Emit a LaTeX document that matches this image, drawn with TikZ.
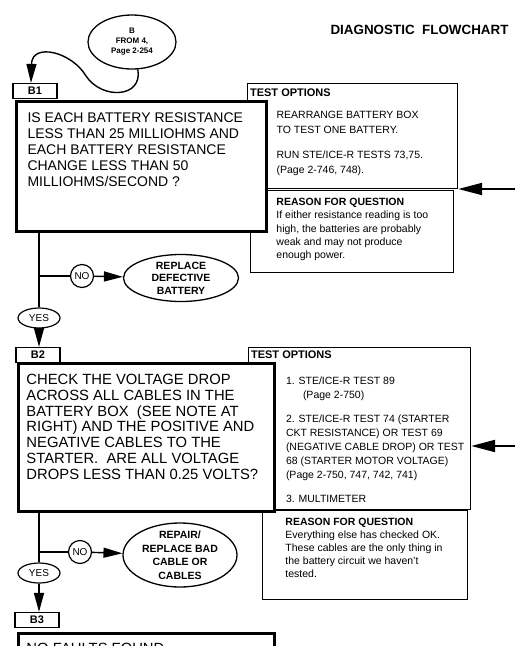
\documentclass[tikz,border=0pt]{standalone}
\usepackage{fontspec}
\setmainfont{Liberation Sans}
\usetikzlibrary{arrows.meta,shapes.geometric}

\begin{document}
\begin{tikzpicture}[x=1pt,y=-1pt,>={Triangle[length=19pt,width=10pt]},
   lab/.style={draw,line width=1.2pt,minimum width=44pt,minimum height=15pt,inner sep=0pt,font=\fontsize{11}{12}\selectfont\bfseries},
   quest/.style={draw,line width=3pt,fill=white,anchor=north west,inner ysep=0pt},
   opts/.style={draw,line width=1.2pt,anchor=north west,inner sep=0pt,font=\fontsize{10.5}{14}\selectfont},
   why/.style={draw,line width=0.9pt,anchor=north west,inner sep=0pt,font=\fontsize{10.5}{13.3}\selectfont},
   act/.style={ellipse,draw,line width=1.3pt,align=center,inner sep=0pt,font=\fontsize{10.5}{12.5}\selectfont\bfseries},
   ans/.style={draw,line width=1.2pt,inner sep=0pt,font=\fontsize{10}{11}\selectfont},
   link/.style={line width=1.4pt},
   feed/.style={line width=2pt,-{Triangle[length=24pt,width=12pt]}}]
  \useasboundingbox (0,0) rectangle (515,646);
  \clip (0,0) rectangle (515,646);
  % heading and entry point
  \node[anchor=east,font=\fontsize{13.4}{15}\selectfont\bfseries] (title) at (512,30) {DIAGNOSTIC\ \ FLOWCHART};
  \node[act,font=\fontsize{8}{10}\selectfont\bfseries,minimum width=88pt,minimum height=54pt] (fromB) at (132,42) {B\\FROM 4,\\Page 2-254};
  % --- B1 ---
  \node[lab] (b1) at (35,91) {B1};
  \node[opts,font=\fontsize{10.5}{15}\selectfont] (t1) at (247,83) {\parbox[c][105pt][t]{210pt}{\raggedright\vspace*{5.5pt}\hspace*{2.5pt}{\fontsize{11}{13}\selectfont\bfseries TEST OPTIONS}\par\vspace{7pt}\leftskip=29pt REARRANGE BATTERY BOX\\TO TEST ONE BATTERY.\par\vspace{10pt}RUN STE/ICE-R TESTS 73,75.\\(Page 2-746, 748).}};
  \node[why] (r1) at (250,189.5) {\parbox[c][82pt][t]{203pt}{\raggedright\leftskip=26pt\vspace*{8.4pt}{\bfseries REASON FOR QUESTION}\\If either resistance reading is too\\high, the batteries are probably\\weak and may not produce\\enough power.}};
  \node[quest,inner xsep=11pt,font=\fontsize{14}{16}\selectfont] (q1) at (15,100) {\parbox[c][130pt][t]{228pt}{\raggedright\vspace*{11.5pt}IS EACH BATTERY RESISTANCE\\LESS THAN 25 MILLIOHMS AND\\EACH BATTERY RESISTANCE\\CHANGE LESS THAN 50\\MILLIOHMS/SECOND ?}};
  \node[ans,circle,minimum size=23pt] (no1) at (82,276) {NO};
  \node[act,minimum width=115pt,minimum height=47pt] (fix1) at (181,278) {REPLACE\\DEFECTIVE\\BATTERY};
  \node[ans,ellipse,minimum width=42pt,minimum height=20pt] (yes1) at (39,318) {YES};
  % --- B2 ---
  \node[lab] (b2) at (38,355) {B2};
  \node[opts] (t2) at (248,347) {\parbox[c][161.5pt][t]{222pt}{\raggedright\vspace*{3.5pt}\hspace*{2.5pt}{\fontsize{11}{13}\selectfont\bfseries TEST OPTIONS}\par\vspace{12pt}\leftskip=37.4pt 1. STE/ICE-R TEST 89\\\hspace*{17pt}(Page 2-750)\par\vspace{10pt}2. STE/ICE-R TEST 74 (STARTER\\CKT RESISTANCE) OR TEST 69\\(NEGATIVE CABLE DROP) OR TEST\\68 (STARTER MOTOR VOLTAGE)\\(Page 2-750, 747, 742, 741)\par\vspace{10pt}3. MULTIMETER}};
  \node[why,font=\fontsize{10.5}{13}\selectfont] (r2) at (262,510) {\parbox[c][89pt][t]{205pt}{\raggedright\leftskip=23pt\vspace*{7.9pt}{\bfseries REASON FOR QUESTION}\\Everything else has checked OK.\\These cables are the only thing in\\the battery circuit we haven't\\tested.}};
  \node[quest,inner xsep=8pt,font=\fontsize{14.8}{15.8}\selectfont] (q2) at (17,362) {\parbox[c][148pt][t]{240pt}{\raggedright\vspace*{10.6pt}CHECK THE VOLTAGE DROP\\ACROSS ALL CABLES IN THE\\BATTERY BOX\ \ (SEE NOTE AT\\RIGHT) AND THE POSITIVE AND\\NEGATIVE CABLES TO THE\\STARTER.\ \ ARE ALL VOLTAGE\\DROPS LESS THAN 0.25 VOLTS?}};
  \node[ans,circle,minimum size=23pt] (no2) at (80,552) {NO};
  \node[act,minimum width=114pt,minimum height=64pt,inner ysep=-1.5pt,font=\fontsize{10.5}{13.5}\selectfont\bfseries] (fix2) at (180,555) {REPAIR/\\REPLACE BAD\\CABLE OR\\CABLES};
  \node[ans,ellipse,minimum width=42pt,minimum height=20pt] (yes2) at (39,573) {YES};
  % --- B3 ---
  \node[lab] (b3) at (37,620) {B3};
  \node[quest,inner xsep=8pt,font=\fontsize{14.8}{15.8}\selectfont] (q3) at (17,632) {\parbox[c][40pt][t]{240pt}{\raggedright\vspace*{9.5pt}NO FAULTS FOUND}};
  % connectors
  \draw[link,->] (fromB.-78) .. controls (143,98) and (102,100) .. (86,76) .. controls (72,52) and (32,42) .. ([xshift=-4pt]b1.north);
  \draw[link] (q1.south -| yes1) -- (yes1);
  \draw[link] (no1) -- (no1 -| yes1);
  \draw[link,->] (no1) -- (fix1);
  \draw[link,->] (yes1) -- (yes1 |- b2.north);
  \draw[link] (q2.south -| yes2) -- (yes2);
  \draw[link] (no2) -- (no2 -| yes2);
  \draw[link,->] (no2) -- (fix2);
  \draw[link,->] (yes2) -- (yes2 |- b3.north);
  \coordinate (in1) at (515,189);
  \coordinate (in2) at (515,446);
  \draw[feed] (in1) -- (in1 -| t1.east);
  \draw[feed] (in2) -- (in2 -| t2.east);
\end{tikzpicture}
\end{document}
